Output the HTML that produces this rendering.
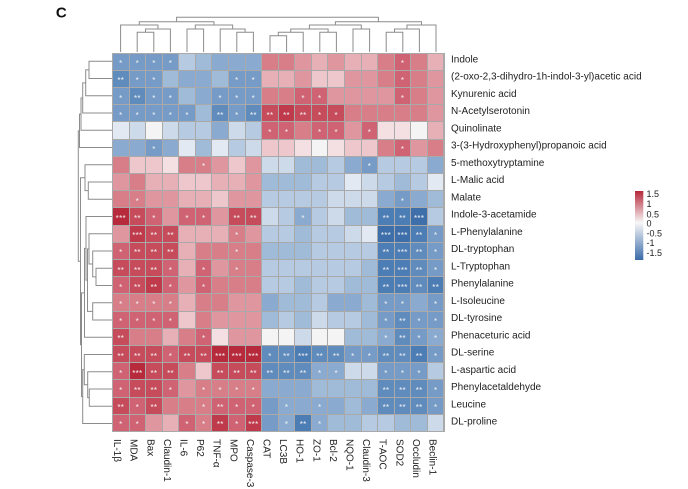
<!DOCTYPE html>
<html><head><meta charset="utf-8">
<style>
html,body{margin:0;padding:0;background:#fff;}
body{width:688px;height:489px;position:relative;overflow:hidden;font-family:"Liberation Sans",sans-serif;}
#hm{position:absolute;left:112px;top:52.5px;width:332.5px;height:379.5px;background:#a9a9a9;display:grid;grid-template-columns:repeat(20,1fr);grid-template-rows:repeat(22,1fr);gap:1px;padding:1px;box-sizing:border-box;}
#hm i{display:flex;align-items:center;justify-content:center;font:8px "Liberation Sans",sans-serif;font-style:normal;color:#f4f4f4;letter-spacing:0.3px;padding-top:4px;box-sizing:border-box;overflow:hidden;}
.r1{background:#f4dfe2}.r2{background:#eec7cc}.r3{background:#e7b0b7}.r4{background:#df969f}.r5{background:#d77e89}.r6{background:#cf6373}.r7{background:#c64c5c}.r8{background:#bf3a4b}.r9{background:#b72a3c}
.b1{background:#e2e9f2}.b2{background:#ccdaea}.b3{background:#b6cbe1}.b4{background:#a0bbd8}.b5{background:#8aabcf}.b6{background:#759bc6}.b7{background:#5f8bbd}.b8{background:#4d7db5}.b9{background:#3e6fab}.w{background:#f4f4f4}
svg{position:absolute;left:0;top:0;}
</style></head><body>
<svg width="688" height="489" viewBox="0 0 688 489">
<defs>
<linearGradient id="lg" x1="0" y1="0" x2="0" y2="1">
<stop offset="0" stop-color="#b52838"/>
<stop offset="0.46" stop-color="#f7f7f7"/>
<stop offset="1" stop-color="#3a6aa8"/>
</linearGradient>
</defs>
<text x="61.3" y="17.7" font-family="Liberation Sans, sans-serif" font-weight="bold" font-size="15" text-anchor="middle" fill="#111">C</text>
<g fill="none" stroke="#8c8c8c" stroke-width="1">
<!-- top dendrogram -->
<path d="M137.2 52V32.3H153.8V52"/>
<path d="M145.5 32.3V29H170.4V52"/>
<path d="M120.6 52V25H157.95V29"/>
<path d="M187 52V29H203.6V52"/>
<path d="M236.8 52V32.3H253.4V52"/>
<path d="M220.2 52V29H245.1V32.3"/>
<path d="M195.3 29V25H232.65V29"/>
<path d="M139.3 25V21.7H213.98V25"/>
<path d="M270 52V35.7H286.6V52"/>
<path d="M278.3 35.7V32.3H303.2V52"/>
<path d="M319.8 52V32.3H336.4V52"/>
<path d="M290.75 32.3V29H328.1V32.3"/>
<path d="M353 52V29H369.6V52"/>
<path d="M309.4 29V25H361.3V29"/>
<path d="M386.2 52V32.3H402.8V52"/>
<path d="M394.5 32.3V29H419.4V52"/>
<path d="M406.95 29V25H436V52"/>
<path d="M335.4 25V21.7H421.5V25"/>
<path d="M176.6 21.7V17.3H378.4V21.7"/>
<!-- left dendrogram -->
<path d="M112.3 61.3H89V78.55H112.3"/>
<path d="M89 69.93H85.7V95.8H112.3"/>
<path d="M85.7 82.86H82.7V113.05H112.3"/>
<path d="M82.7 97.96H81V130.3H112.3"/>
<path d="M81 114.13H79.5V147.55H112.3"/>
<path d="M112.3 182.05H88.3V199.3H112.3"/>
<path d="M112.3 164.8H85V190.68H88.3"/>
<path d="M112.3 268.3H96V285.55H112.3"/>
<path d="M112.3 251.05H92.7V276.93H96"/>
<path d="M112.3 233.8H89V263.99H92.7"/>
<path d="M112.3 302.8H92.7V320.05H112.3"/>
<path d="M89 248.9H87.5V311.43H92.7"/>
<path d="M112.3 216.55H86V280.16H87.5"/>
<path d="M86 248.36H84.5V337.3H112.3"/>
<path d="M112.3 389.05H89.3V406.3H112.3"/>
<path d="M112.3 371.8H87.7V397.68H89.3"/>
<path d="M112.3 354.55H84.3V384.74H87.7"/>
<path d="M84.3 369.64H82.7V423.55H112.3"/>
<path d="M84.5 292.83H81.5V396.6H82.7"/>
<path d="M85 177.74H80.5V344.7H81.5"/>
<path d="M79.5 130.84H78.3V261.2H80.5"/>
</g>
<!-- row labels -->
<g font-family="Liberation Sans, sans-serif" font-size="10" fill="#222">
<text x="451" y="62.3">Indole</text>
<text x="451" y="79.55">(2-oxo-2,3-dihydro-1h-indol-3-yl)acetic acid</text>
<text x="451" y="96.8">Kynurenic acid</text>
<text x="451" y="114.05">N-Acetylserotonin</text>
<text x="451" y="131.3">Quinolinate</text>
<text x="451" y="148.55">3-(3-Hydroxyphenyl)propanoic acid</text>
<text x="451" y="165.8">5-methoxytryptamine</text>
<text x="451" y="183.05">L-Malic acid</text>
<text x="451" y="200.3">Malate</text>
<text x="451" y="217.55">Indole-3-acetamide</text>
<text x="451" y="234.8">L-Phenylalanine</text>
<text x="451" y="252.05">DL-tryptophan</text>
<text x="451" y="269.3">L-Tryptophan</text>
<text x="451" y="286.55">Phenylalanine</text>
<text x="451" y="303.8">L-Isoleucine</text>
<text x="451" y="321.05">DL-tyrosine</text>
<text x="451" y="338.3">Phenaceturic acid</text>
<text x="451" y="355.55">DL-serine</text>
<text x="451" y="372.8">L-aspartic acid</text>
<text x="451" y="390.05">Phenylacetaldehyde</text>
<text x="451" y="407.3">Leucine</text>
<text x="451" y="424.55">DL-proline</text>
</g>
<!-- column labels -->
<g font-family="Liberation Sans, sans-serif" font-size="10" fill="#222">
<text transform="translate(114.1,439) rotate(90)">IL-1β</text>
<text transform="translate(130.7,439) rotate(90)">MDA</text>
<text transform="translate(147.3,439) rotate(90)">Bax</text>
<text transform="translate(163.9,439) rotate(90)">Claudin-1</text>
<text transform="translate(180.5,439) rotate(90)">IL-6</text>
<text transform="translate(197.1,439) rotate(90)">P62</text>
<text transform="translate(213.7,439) rotate(90)">TNF-α</text>
<text transform="translate(230.3,439) rotate(90)">MPO</text>
<text transform="translate(246.9,439) rotate(90)">Caspase-3</text>
<text transform="translate(263.5,439) rotate(90)">CAT</text>
<text transform="translate(280.1,439) rotate(90)">LC3B</text>
<text transform="translate(296.7,439) rotate(90)">HO-1</text>
<text transform="translate(313.3,439) rotate(90)">ZO-1</text>
<text transform="translate(329.9,439) rotate(90)">Bcl-2</text>
<text transform="translate(346.5,439) rotate(90)">NQO-1</text>
<text transform="translate(363.1,439) rotate(90)">Claudin-3</text>
<text transform="translate(379.7,439) rotate(90)">T-AOC</text>
<text transform="translate(396.3,439) rotate(90)">SOD2</text>
<text transform="translate(412.9,439) rotate(90)">Occludin</text>
<text transform="translate(429.5,439) rotate(90)">Beclin-1</text>
</g>
<!-- legend -->
<rect x="635" y="191" width="8.3" height="69" fill="url(#lg)"/>
<g font-family="Liberation Sans, sans-serif" font-size="9" fill="#222">
<text x="646.5" y="197.2">1.5</text>
<text x="646.5" y="207.2">1</text>
<text x="646.5" y="217.5">0.5</text>
<text x="646.5" y="226.6">0</text>
<text x="646.5" y="236.6">-0.5</text>
<text x="646.5" y="246">-1</text>
<text x="646.5" y="256">-1.5</text>
</g>
</svg>
<div id="hm">
<i class=b6>*</i><i class=b6>*</i><i class=b6>*</i><i class=b6>*</i><i class=b3></i><i class=b4></i><i class=b5></i><i class=b5></i><i class=b5></i><i class=r5></i><i class=r5></i><i class=r4></i><i class=r3></i><i class=r4></i><i class=r3></i><i class=r3></i><i class=r5></i><i class=r6>*</i><i class=r5></i><i class=r3></i>
<i class=b7>**</i><i class=b6>*</i><i class=b6>*</i><i class=b4></i><i class=b5></i><i class=b5></i><i class=b4></i><i class=b6>*</i><i class=b6>*</i><i class=r3></i><i class=r3></i><i class=r4></i><i class=r2></i><i class=r2></i><i class=r4></i><i class=r4></i><i class=r5></i><i class=r6>*</i><i class=r5></i><i class=r4></i>
<i class=b6>*</i><i class=b7>**</i><i class=b6>*</i><i class=b6>*</i><i class=b4></i><i class=b5></i><i class=b6>*</i><i class=b6>*</i><i class=b6>*</i><i class=r5></i><i class=r5></i><i class=r6>*</i><i class=r6>*</i><i class=r4></i><i class=r4></i><i class=r4></i><i class=r4></i><i class=r6>*</i><i class=r5></i><i class=r4></i>
<i class=b6>*</i><i class=b6>*</i><i class=b6>*</i><i class=b6>*</i><i class=b6>*</i><i class=b4></i><i class=b7>**</i><i class=b6>*</i><i class=b7>**</i><i class=r7>**</i><i class=r8>**</i><i class=r7>**</i><i class=r7>*</i><i class=r7>*</i><i class=r5></i><i class=r5></i><i class=r5></i><i class=r5></i><i class=r5></i><i class=r4></i>
<i class=b1></i><i class=b2></i><i class=w></i><i class=b2></i><i class=b3></i><i class=b3></i><i class=b5></i><i class=b2></i><i class=b3></i><i class=r6>*</i><i class=r6>*</i><i class=r5></i><i class=r6>*</i><i class=r6>*</i><i class=r4></i><i class=r6>*</i><i class=r1></i><i class=r1></i><i class=w></i><i class=r3></i>
<i class=b5></i><i class=b5></i><i class=b6>*</i><i class=b5></i><i class=b1></i><i class=b4></i><i class=b1></i><i class=b3></i><i class=b2></i><i class=r2></i><i class=r2></i><i class=r1></i><i class=w></i><i class=r1></i><i class=r2></i><i class=r2></i><i class=r5></i><i class=r6>*</i><i class=r4></i><i class=r5></i>
<i class=r5></i><i class=r2></i><i class=r2></i><i class=r1></i><i class=r5></i><i class=r5>*</i><i class=r4></i><i class=r2></i><i class=r4></i><i class=b2></i><i class=b2></i><i class=b4></i><i class=b4></i><i class=b3></i><i class=b5></i><i class=b6>*</i><i class=b3></i><i class=b3></i><i class=b3></i><i class=b5></i>
<i class=r4></i><i class=r5></i><i class=r3></i><i class=r3></i><i class=r2></i><i class=r2></i><i class=r3></i><i class=r3></i><i class=r4></i><i class=b4></i><i class=b4></i><i class=b4></i><i class=b3></i><i class=b3></i><i class=b1></i><i class=b2></i><i class=b3></i><i class=b4></i><i class=b3></i><i class=b1></i>
<i class=r5></i><i class=r5>*</i><i class=r4></i><i class=r4></i><i class=r3></i><i class=r3></i><i class=r2></i><i class=r4></i><i class=r4></i><i class=b3></i><i class=b3></i><i class=b3></i><i class=b3></i><i class=b2></i><i class=b2></i><i class=b2></i><i class=b5></i><i class=b6>*</i><i class=b5></i><i class=b4></i>
<i class=r9>***</i><i class=r7>**</i><i class=r6>*</i><i class=r4></i><i class=r6>*</i><i class=r6>*</i><i class=r4></i><i class=r7>**</i><i class=r7>**</i><i class=b2></i><i class=b3></i><i class=b5>*</i><i class=b3></i><i class=b2></i><i class=b4></i><i class=b4></i><i class=b8>**</i><i class=b8>**</i><i class=b9>***</i><i class=b3></i>
<i class=r4></i><i class=r8>***</i><i class=r7>**</i><i class=r7>**</i><i class=r3></i><i class=r3></i><i class=r3></i><i class=r5>*</i><i class=r4></i><i class=b3></i><i class=b3></i><i class=b4></i><i class=b3></i><i class=b3></i><i class=b2></i><i class=b1></i><i class=b9>***</i><i class=b9>***</i><i class=b8>**</i><i class=b6>*</i>
<i class=r6>*</i><i class=r7>**</i><i class=r7>**</i><i class=r7>**</i><i class=r3></i><i class=r5></i><i class=r5></i><i class=r5>*</i><i class=r5></i><i class=b4></i><i class=b4></i><i class=b4></i><i class=b3></i><i class=b3></i><i class=b3></i><i class=b3></i><i class=b8>**</i><i class=b8>***</i><i class=b7>**</i><i class=b6>*</i>
<i class=r7>**</i><i class=r7>**</i><i class=r7>**</i><i class=r6>*</i><i class=r3></i><i class=r6>*</i><i class=r4></i><i class=r5>*</i><i class=r5></i><i class=b3></i><i class=b3></i><i class=b3></i><i class=b3></i><i class=b3></i><i class=b3></i><i class=b4></i><i class=b8>**</i><i class=b8>***</i><i class=b7>**</i><i class=b6>*</i>
<i class=r6>*</i><i class=r7>**</i><i class=r8>**</i><i class=r6>*</i><i class=r4></i><i class=r6>*</i><i class=r5></i><i class=r5></i><i class=r5></i><i class=b3></i><i class=b3></i><i class=b4></i><i class=b3></i><i class=b3></i><i class=b4></i><i class=b4></i><i class=b8>**</i><i class=b8>***</i><i class=b7>**</i><i class=b8>**</i>
<i class=r5>*</i><i class=r5>*</i><i class=r5>*</i><i class=r5>*</i><i class=r3></i><i class=r5></i><i class=r5></i><i class=r4></i><i class=r4></i><i class=b5></i><i class=b4></i><i class=b4></i><i class=b3></i><i class=b5></i><i class=b5></i><i class=b4></i><i class=b6>*</i><i class=b6>*</i><i class=b5></i><i class=b6>*</i>
<i class=r6>*</i><i class=r6>*</i><i class=r6>*</i><i class=r6>*</i><i class=r2></i><i class=r5></i><i class=r4></i><i class=r4></i><i class=r4></i><i class=b4></i><i class=b3></i><i class=b4></i><i class=b2></i><i class=b3></i><i class=b3></i><i class=b4></i><i class=b6>*</i><i class=b7>**</i><i class=b6>*</i><i class=b6>*</i>
<i class=r7>**</i><i class=r5></i><i class=r5></i><i class=r3></i><i class=r5></i><i class=r6>*</i><i class=r1></i><i class=r4></i><i class=r4></i><i class=w></i><i class=w></i><i class=b2></i><i class=w></i><i class=w></i><i class=b4></i><i class=b4></i><i class=b5>*</i><i class=b7>**</i><i class=b6>*</i><i class=b5>*</i>
<i class=r7>**</i><i class=r7>**</i><i class=r7>**</i><i class=r6>*</i><i class=r7>**</i><i class=r7>**</i><i class=r9>***</i><i class=r9>***</i><i class=r9>***</i><i class=b7>*</i><i class=b7>**</i><i class=b8>***</i><i class=b7>**</i><i class=b7>**</i><i class=b6>*</i><i class=b6>*</i><i class=b7>**</i><i class=b7>**</i><i class=b8>**</i><i class=b6>*</i>
<i class=r6>*</i><i class=r9>***</i><i class=r7>**</i><i class=r7>**</i><i class=r5></i><i class=r2></i><i class=r7>**</i><i class=r7>**</i><i class=r7>**</i><i class=b7>**</i><i class=b7>**</i><i class=b7>**</i><i class=b5>*</i><i class=b5>*</i><i class=b2></i><i class=b2></i><i class=b6>*</i><i class=b6>*</i><i class=b6>*</i><i class=b3></i>
<i class=r6>*</i><i class=r7>**</i><i class=r7>**</i><i class=r6>*</i><i class=r4></i><i class=r5>*</i><i class=r5>*</i><i class=r5>*</i><i class=r5>*</i><i class=b5></i><i class=b5></i><i class=b5></i><i class=b4></i><i class=b4></i><i class=b4></i><i class=b4></i><i class=b7>**</i><i class=b7>**</i><i class=b7>**</i><i class=b6>*</i>
<i class=r7>**</i><i class=r6>*</i><i class=r7>**</i><i class=r5></i><i class=r5></i><i class=r5>*</i><i class=r6>**</i><i class=r6>*</i><i class=r6>*</i><i class=b6></i><i class=b5>*</i><i class=b5></i><i class=b5>*</i><i class=b5></i><i class=b4></i><i class=b5></i><i class=b7>**</i><i class=b7>**</i><i class=b7>**</i><i class=b6>*</i>
<i class=r6>*</i><i class=r6>*</i><i class=r4></i><i class=r3></i><i class=r6>*</i><i class=r5>*</i><i class=r8>**</i><i class=r6>*</i><i class=r8>***</i><i class=b6></i><i class=b5>*</i><i class=b8>**</i><i class=b5>*</i><i class=b4></i><i class=b4></i><i class=b3></i><i class=b3></i><i class=b4></i><i class=b4></i><i class=b2></i>
</div>
</body></html>
